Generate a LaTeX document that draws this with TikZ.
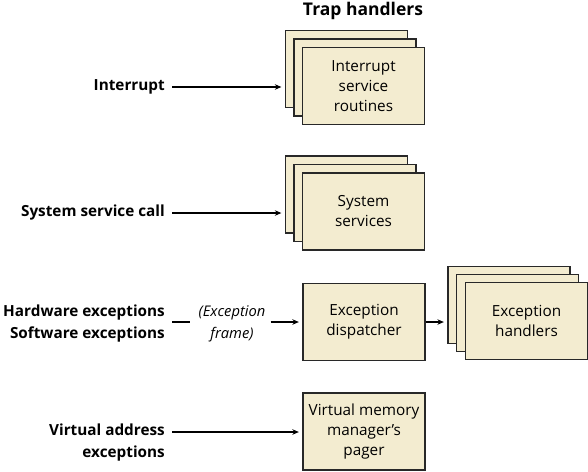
\documentclass[tikz,border=0pt]{standalone}
\usepackage{fontspec}
\setmainfont{Open Sans}
\usetikzlibrary{arrows.meta,calc}
\definecolor{boxfill}{RGB}{243,236,208}
\definecolor{boxline}{RGB}{40,40,40}
\tikzset{
  hbox/.style={draw=boxline, fill=boxfill, line width=1.3pt, minimum width=122pt, minimum height=77pt, inner sep=0pt, align=center, font=\fontsize{15.3}{20}\selectfont},
  shadowbox/.style={draw=boxline, fill=boxfill, line width=1.3pt, minimum width=122pt, minimum height=77pt, inner sep=0pt},
  lbl/.style={font=\fontsize{15.3}{22.5}\selectfont\bfseries, align=right, anchor=east, inner sep=0pt},
  arr/.style={line width=1.1pt, -{Stealth[length=6.5pt,width=5.5pt]}, shorten >=3.5pt},
}
\begin{document}
\begin{tikzpicture}[x=1pt,y=-1pt]
\useasboundingbox (0,0) rectangle (588,471);
% title
\node[font=\fontsize{17.5}{20}\selectfont\bfseries] (title) at (363,11) {Trap handlers};
% stack 1
\node[shadowbox] (isrb) at (346.5,69) {};
\node[shadowbox] (isrm) at (355,77.5) {};
\node[hbox] (isr) at (363.5,86) {Interrupt\\service\\routines};
% stack 2
\node[shadowbox] (ssb) at (346.5,194.5) {};
\node[shadowbox] (ssm) at (355,203) {};
\node[hbox] (ss) at (363.5,211.5) {System\\services};
% dispatcher
\node[hbox] (disp) at (364,322) {Exception\\dispatcher};
% handlers stack
\node[shadowbox] (ehb) at (509,305) {};
\node[shadowbox] (ehm) at (517.5,313) {};
\node[hbox] (eh) at (526.5,321) {Exception\\handlers};
% vmm
\node[hbox] (vmm) at (364,431.5) {Virtual memory\\manager’s\\pager};
% labels
\node[lbl] (intl) at (165,87) {Interrupt};
\node[lbl] (ssl) at (165,213) {System service call};
\node[lbl] (hwl) at (165,323.5) {Hardware exceptions\\Software exceptions};
\node[lbl] (val) at (165,442.5) {Virtual address\\exceptions};
\node[font=\fontsize{14.7}{22}\selectfont\itshape, align=center, inner sep=0pt] (ef) at (232,323.5) {(Exception\\frame)};
% connectors
\draw[arr] ($(intl.east)+(7,0)$) -- (intl.east -| isrb.west);
\draw[arr] ($(ssl.east)+(7,0)$) -- (ssl.east -| ssb.west);
\draw[line width=1.1pt] ($(hwl.east)+(7,-1.5)$) -- ++(18,0);
\draw[arr] ($(ef.east)+(5,-1.5)$) -- (disp.west);
\draw[arr] (disp.east) -- (disp.east -| ehb.west);
\coordinate (vastart) at (172,432);
\draw[arr] (vastart) -- (vastart -| vmm.west);
\end{tikzpicture}
\end{document}
